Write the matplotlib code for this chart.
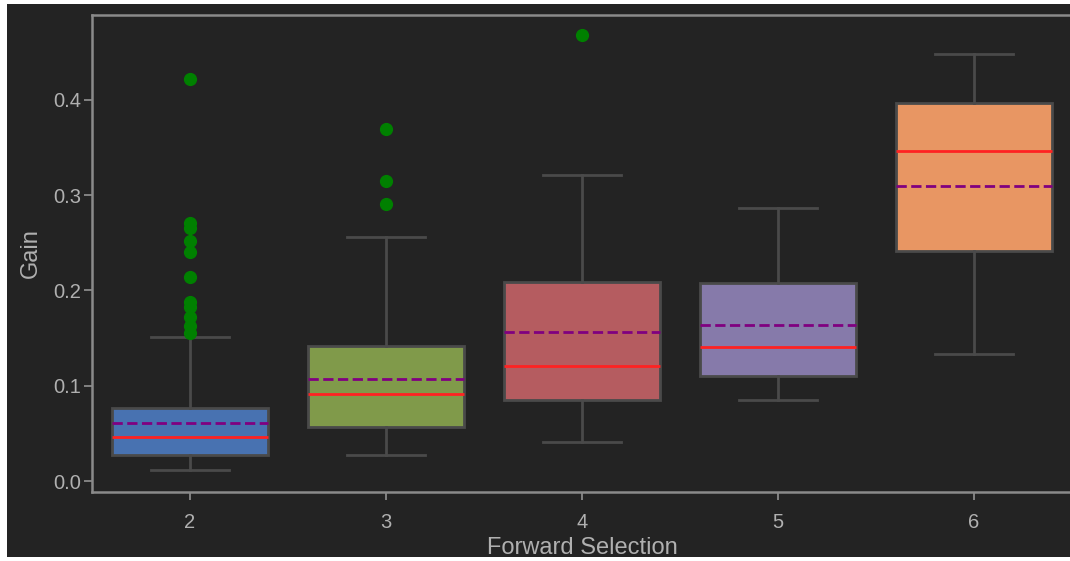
import matplotlib.pyplot as plt
from matplotlib.patches import Rectangle

groups = ['2', '3', '4', '5', '6']
q1 = [0.0273, 0.057, 0.085, 0.1106, 0.2418]
med = [0.0465, 0.0913, 0.1207, 0.1407, 0.3468]
q3 = [0.077, 0.1417, 0.2093, 0.2082, 0.397]
mean = [0.061, 0.1068, 0.156, 0.1638, 0.310]
whislo = [0.0115, 0.027, 0.0406, 0.0854, 0.1333]
whishi = [0.1515, 0.2562, 0.321, 0.287, 0.4486]
fliers = [
    [0.4217, 0.271, 0.265, 0.252, 0.240, 0.214, 0.1876, 0.183, 0.1725, 0.1627, 0.155],
    [0.369, 0.3153, 0.2908],
    [0.468],
    [],
    [],
]
colors = ['#4872b1', '#809a4a', '#b55c60', '#867aaa', '#e89663']

bg = '#232323'
grey = '#8a8a8a'
fam = ['Liberation Sans', 'DejaVu Sans']

fig = plt.figure(figsize=(10.7, 5.61), dpi=100, facecolor='white')
fig.patches.append(Rectangle((7 / 1070, 4 / 561), 1, 1 - 8 / 561,
                             transform=fig.transFigure, facecolor=bg,
                             edgecolor='none', zorder=-10))
ax = fig.add_axes([92 / 1070, 69 / 561, 980 / 1070, 477 / 561])
ax.set_facecolor(bg)

stats = []
for i in range(len(groups)):
    stats.append(dict(q1=q1[i], med=med[i], q3=q3[i], mean=mean[i],
                      whislo=whislo[i], whishi=whishi[i], fliers=fliers[i]))

bp = ax.bxp(stats, positions=range(len(groups)), widths=0.8,
            patch_artist=True, showmeans=True, meanline=True,
            boxprops=dict(edgecolor='#4a4a4a', linewidth=2),
            whiskerprops=dict(color='#4a4a4a', linewidth=2),
            capprops=dict(color='#4a4a4a', linewidth=2),
            medianprops=dict(color='#ff2222', linewidth=2),
            meanprops=dict(color='purple', linestyle='--', linewidth=2),
            flierprops=dict(marker='o', markerfacecolor='green',
                            markeredgecolor='green', markersize=8.5))
for patch, c in zip(bp['boxes'], colors):
    patch.set_facecolor(c)

ax.set_xlim(-0.5, 4.5)
ax.set_ylim(-0.0115, 0.489)
ax.set_xticks(range(len(groups)))
ax.set_xticklabels(groups)
ax.set_yticks([0.0, 0.1, 0.2, 0.3, 0.4])

for s in ax.spines.values():
    s.set_color(grey)
    s.set_linewidth(1.8)
ax.tick_params(colors=grey, labelcolor='#b0b0b0', labelsize=14.5,
               length=6, width=1.3)
ax.tick_params(axis='x', pad=9)
ax.tick_params(axis='y', pad=2)
ax.set_xlabel('Forward Selection', color='#b0b0b0', fontsize=17, labelpad=4)
ax.set_ylabel('Gain', color='#b0b0b0', fontsize=17, labelpad=8)

for t in ax.get_xticklabels() + ax.get_yticklabels():
    t.set_family(fam)
ax.xaxis.label.set_family(fam)
ax.yaxis.label.set_family(fam)

fig.savefig('out.png', dpi=100, facecolor=fig.get_facecolor())
